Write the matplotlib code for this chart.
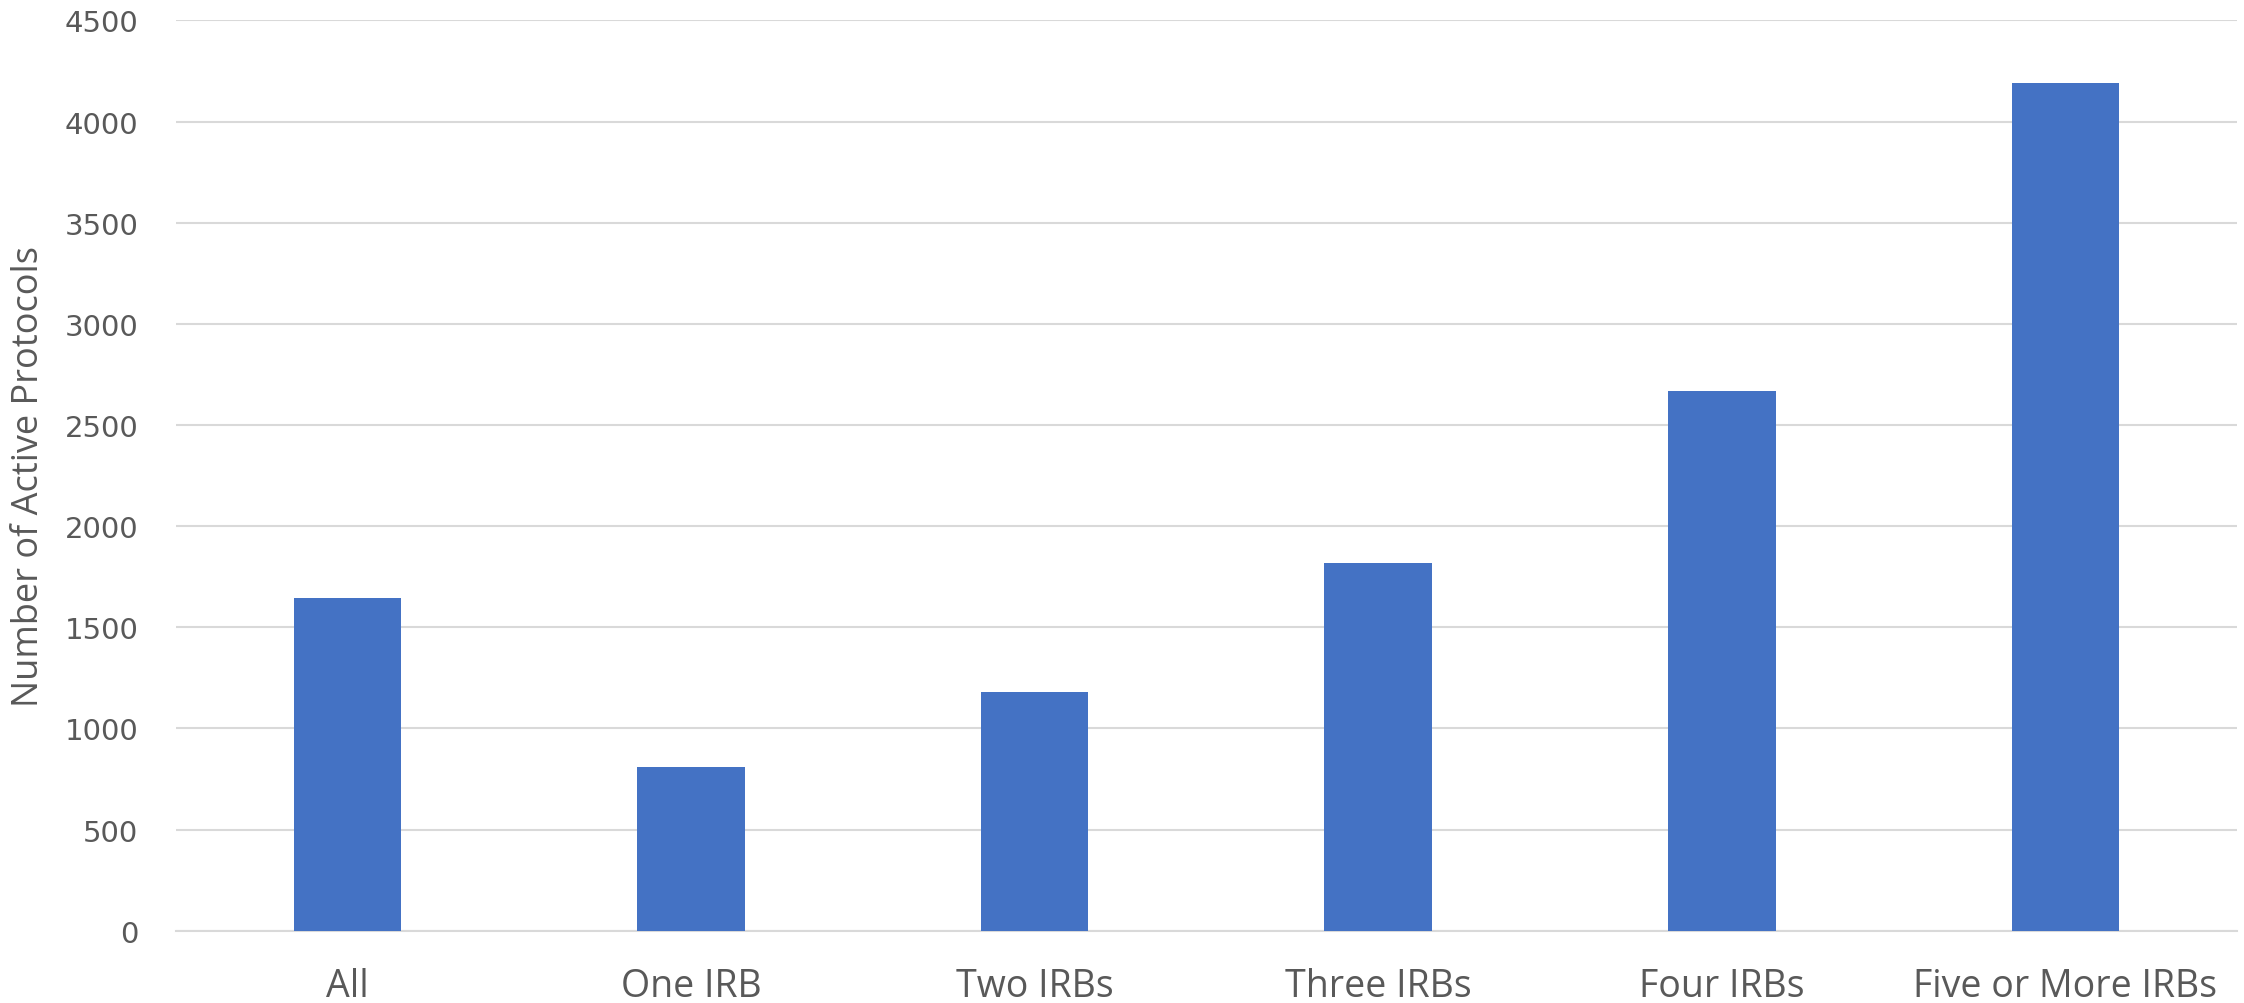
#Bar chart of active protocols by number of IRBs
import numpy as np
import matplotlib
matplotlib.use('Agg')
import matplotlib.pyplot as plt

categories = ['All', 'One IRB', 'Two IRBs', 'Three IRBs', 'Four IRBs', 'Five or More IRBs']
protocols = [1644, 808, 1179, 1818, 2666, 4191]
y_ticks = [0, 500, 1000, 1500, 2000, 2500, 3000, 3500, 4000, 4500]

text_color = '#595959'
grid_color = '#d9d9d9'

fig = plt.figure(figsize=(22.44, 10.04), dpi=100)
ax = fig.add_axes([0.0784, 0.072, 0.9185, 0.9066])

x = np.arange(len(categories))
ax.bar(x, protocols, width=0.313, color='#4472c4', zorder=3)

ax.set_xlim(-0.5, len(categories) - 0.5)
ax.set_ylim(0, 4500)
ax.set_yticks(y_ticks)
ax.set_xticks(x)
ax.set_xticklabels(categories, fontsize=27, color=text_color, family=['Open Sans', 'DejaVu Sans'])
ax.set_yticklabels([str(t) for t in y_ticks], fontsize=21, color=text_color, family=['DejaVu Sans'])
ax.tick_params(axis='both', length=0)
ax.tick_params(axis='x', pad=26)
ax.tick_params(axis='y', pad=27)

#horizontal gridlines only, no frame
ax.grid(axis='y', color=grid_color, linewidth=1.5, zorder=0)
for side in ['top', 'right', 'left']:
    ax.spines[side].set_visible(False)
ax.spines['bottom'].set_color(grid_color)
ax.spines['bottom'].set_linewidth(1.5)

ax.set_ylabel('Number of Active Protocols', fontsize=26, color=text_color,
              family=['Liberation Sans Narrow', 'Open Sans', 'DejaVu Sans'])
ax.yaxis.set_label_coords(-0.0626, 0.5)

plt.savefig('out.png', dpi=100)
